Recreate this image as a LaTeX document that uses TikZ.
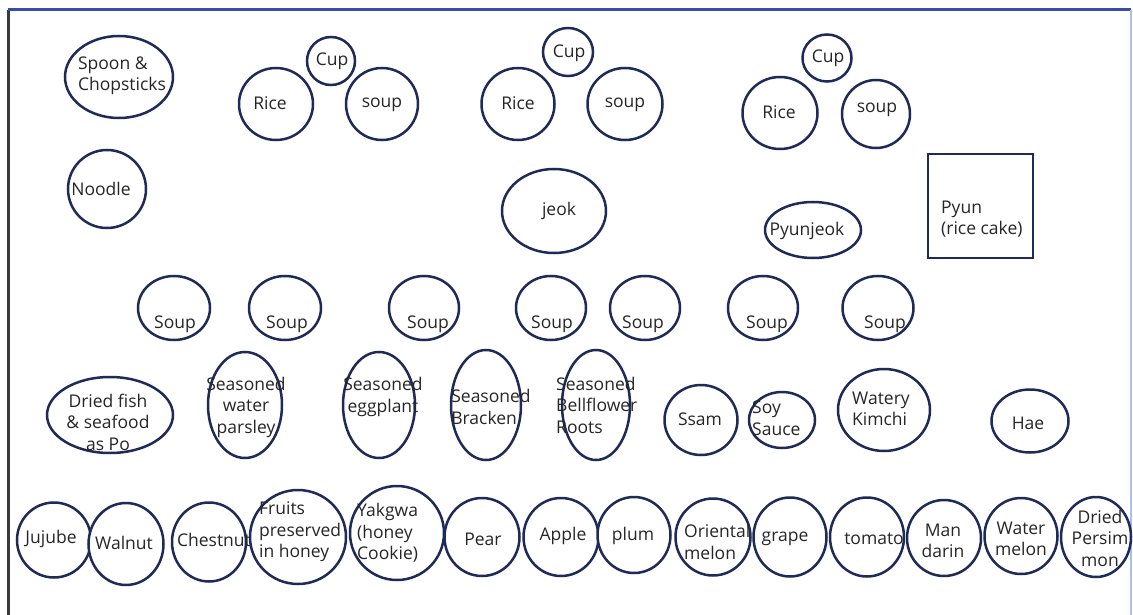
\documentclass[tikz,border=0pt]{standalone}
\usepackage{fontspec}
\setmainfont{Open Sans}
\usetikzlibrary{shapes.geometric}
\definecolor{stroke}{HTML}{1E2A58}
\definecolor{ink}{HTML}{262626}
\definecolor{frametop}{HTML}{3A4EA8}
\definecolor{frameleft}{HTML}{3A3A3A}
\definecolor{frameright}{HTML}{A9C1EA}
\begin{document}
\begin{tikzpicture}[x=1pt,y=-1pt,
  dish/.style={draw=stroke, line width=2.5pt, fill=white, ellipse, inner sep=0pt},
  tray/.style={draw=stroke, line width=2.5pt, fill=white, rectangle, inner sep=0pt},
  lbl/.style={text=ink, font=\fontsize{17.5}{21.5}\selectfont, inner sep=0pt, align=center},
  lbll/.style={lbl, align=left},
  edge/.style={line width=3pt}
]
\useasboundingbox (0,0) rectangle (1133,615);
\fill[white] (0,0) rectangle (1133,615);
% frame
\coordinate (ftl) at (8,10);
\coordinate (fbl) at (8,616);
\coordinate (ftr) at (1131,10);
\coordinate (fbr) at (1131,616);
\draw[edge, frameleft] (fbl) -- (ftl);
\draw[edge, frametop] (ftl) -- (ftr);
\draw[line width=2pt, frameright] (ftr) -- (fbr);

% ---- top area
\node[dish, minimum width=108pt, minimum height=82pt] (spoon) at (119,77) {};
\node[lbll] (spoonT) at (122,76) {Spoon \&\\Chopsticks};
\node[dish, minimum width=78pt, minimum height=78pt] (noodle) at (107,189) {};
\node[lbl] (noodleT) at (101,189) {Noodle};

\node[dish, minimum width=74pt, minimum height=72pt] (rice1) at (276,104) {};
\node[lbl] (rice1T) at (270,103) {Rice};
\node[dish, minimum width=48pt, minimum height=48pt] (cup1) at (331,61) {};
\node[lbl] (cup1T) at (332,61) {Cup};
\node[dish, minimum width=72pt, minimum height=72pt] (soupA) at (382,104) {};
\node[lbl] (soupAT) at (382,105) {soup};

\node[dish, minimum width=73pt, minimum height=72pt] (rice2) at (518,104) {};
\node[lbl] (rice2T) at (518,103) {Rice};
\node[dish, minimum width=50pt, minimum height=48pt] (cup2) at (568,52) {};
\node[lbl] (cup2T) at (569,53) {Cup};
\node[dish, minimum width=75pt, minimum height=72pt] (soupB) at (625,104) {};
\node[lbl] (soupBT) at (625,105) {soup};
\node[dish, minimum width=104pt, minimum height=84pt] (jeok) at (554,211) {};
\node[lbl] (jeokT) at (559,211) {jeok};

\node[dish, minimum width=75pt, minimum height=72pt] (rice3) at (780,113) {};
\node[lbl] (rice3T) at (779,112) {Rice};
\node[dish, minimum width=49pt, minimum height=47pt] (cup3) at (827,58) {};
\node[lbl] (cup3T) at (828,58) {Cup};
\node[dish, minimum width=68pt, minimum height=68pt] (soupC) at (876,114) {};
\node[lbl] (soupCT) at (877,110) {soup};
\node[dish, minimum width=96pt, minimum height=56pt] (pyunjeok) at (813,230) {};
\node[lbl] (pyunjeokT) at (807,231) {Pyunjeok};
\node[tray, minimum width=105pt, minimum height=104pt] (pyun) at (980.5,206) {};
\node[lbll, anchor=west] (pyunT) at (941,219) {Pyun\\(rice cake)};

% ---- soup row
\node[dish, minimum width=72pt, minimum height=64pt] (s1) at (174,308) {};
\node[lbl] (s1T) at (175,324) {Soup};
\node[dish, minimum width=72pt, minimum height=64pt] (s2) at (285,308) {};
\node[lbl] (s2T) at (287,324) {Soup};
\node[dish, minimum width=70pt, minimum height=64pt] (s3) at (424,308) {};
\node[lbl] (s3T) at (428,324) {Soup};
\node[dish, minimum width=70pt, minimum height=64pt] (s4) at (551,308) {};
\node[lbl] (s4T) at (552,324) {Soup};
\node[dish, minimum width=70pt, minimum height=64pt] (s5) at (645,308) {};
\node[lbl] (s5T) at (643,324) {Soup};
\node[dish, minimum width=70pt, minimum height=64pt] (s6) at (763,308) {};
\node[lbl] (s6T) at (767,324) {Soup};
\node[dish, minimum width=71pt, minimum height=64pt] (s7) at (878,308) {};
\node[lbl] (s7T) at (885,324) {Soup};

% ---- side dishes
\node[dish, minimum width=126pt, minimum height=76pt] (fish) at (110,415) {};
\node[lbl] (fishT) at (108,422) {Dried fish\\\& seafood\\as Po};
\node[dish, minimum width=74pt, minimum height=106pt] (parsley) at (245,405) {};
\node[lbl] (parsleyT) at (246,407) {Seasoned\\water\\parsley};
\node[dish, minimum width=72pt, minimum height=106pt] (eggplant) at (379,405) {};
\node[lbl] (eggplantT) at (383,397) {Seasoned\\eggplant};
\node[dish, minimum width=70pt, minimum height=110pt] (bracken) at (486,405) {};
\node[lbll] (brackenT) at (491,407) {Seasoned\\Bracken};
\node[dish, minimum width=68pt, minimum height=110pt] (bellflower) at (596,405) {};
\node[lbll, anchor=west] (bellflowerT) at (556,405) {Seasoned\\Bellflower\\Roots};
\node[dish, minimum width=73pt, minimum height=70pt] (ssam) at (701,420) {};
\node[lbl] (ssamT) at (700,419) {Ssam};
\node[dish, minimum width=66pt, minimum height=56pt] (soy) at (782,420) {};
\node[lbll, anchor=west] (soyT) at (752,418) {Soy\\Sauce};
\node[dish, minimum width=92pt, minimum height=82pt] (kimchi) at (884,410) {};
\node[lbll, anchor=west] (kimchiT) at (852,409) {Watery\\Kimchi};
\node[dish, minimum width=77pt, minimum height=63pt] (hae) at (1030,421) {};
\node[lbl] (haeT) at (1028,423) {Hae};

% ---- fruits and sweets
\node[dish, minimum width=74pt, minimum height=75pt] (jujube) at (54,540) {};
\node[lbl] (jujubeT) at (51,539) {Jujube};
\node[dish, minimum width=75pt, minimum height=82pt] (walnut) at (126,544) {};
\node[lbl] (walnutT) at (124,543) {Walnut};
\node[dish, minimum width=74pt, minimum height=79pt] (chestnut) at (209,542) {};
\node[lbl] (chestnutT) at (214,540) {Chestnut};
\node[dish, minimum width=96pt, minimum height=94pt] (honeyfruit) at (298,537) {};
\node[lbll, anchor=west] (honeyfruitT) at (259,532) {Fruits\\preserved\\in honey};
\node[dish, minimum width=94pt, minimum height=94pt] (yakgwa) at (397,533) {};
\node[lbll, anchor=west] (yakgwaT) at (357,533) {Yakgwa\\(honey\\Cookie)};
\node[dish, minimum width=75pt, minimum height=78pt] (pear) at (482,537) {};
\node[lbl] (pearT) at (483,539) {Pear};
\node[dish, minimum width=75pt, minimum height=78pt] (apple) at (561,537) {};
\node[lbl] (appleT) at (563,536) {Apple};
\node[dish, minimum width=73pt, minimum height=76pt] (plum) at (634,535) {};
\node[lbl] (plumT) at (633,536) {plum};
\node[dish, minimum width=75pt, minimum height=77pt] (oriental) at (713,537) {};
\node[lbll, anchor=west] (orientalT) at (684,542) {Oriental\\melon};
\node[dish, minimum width=73pt, minimum height=79pt] (grape) at (790,537) {};
\node[lbl] (grapeT) at (785,539) {grape};
\node[dish, minimum width=74pt, minimum height=79pt] (tomato) at (867,537) {};
\node[lbl] (tomatoT) at (874,539) {tomato};
\node[dish, minimum width=74pt, minimum height=76pt] (mandarin) at (944,538) {};
\node[lbl] (mandarinT) at (943,541) {Man\\darin};
\node[dish, minimum width=73pt, minimum height=76pt] (watermelon) at (1021,536) {};
\node[lbl] (watermelonT) at (1021,539) {Water\\melon};
\node[dish, minimum width=70pt, minimum height=80pt] (persimmon) at (1096,537) {};
\node[lbl] (persimmonT) at (1100,538) {Dried\\Persim\\mon};
\end{tikzpicture}
\end{document}
